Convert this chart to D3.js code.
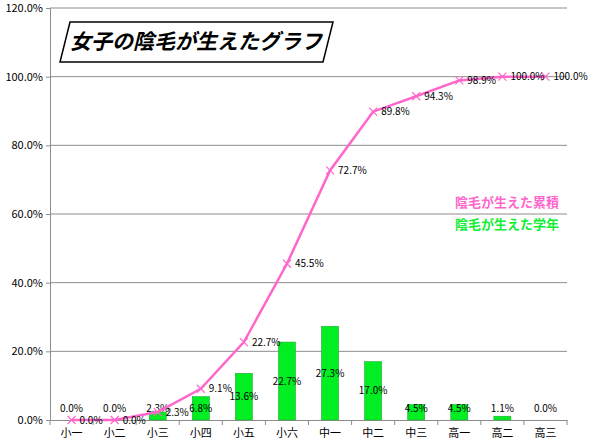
<!DOCTYPE html><html><head><meta charset="utf-8"><script src="https://cdn.jsdelivr.net/npm/d3@7"></script>
<style>body{margin:0;background:#fff}text{font-family:"Noto Sans CJK JP","DejaVu Sans",sans-serif}</style></head><body><svg id="c" width="600" height="448"></svg><script>
const categories=["小一","小二","小三","小四","小五","小六","中一","中二","中三","高一","高二","高三"];
const yearly=[0.0,0.0,2.3,6.8,13.6,22.7,27.3,17.0,4.5,4.5,1.1,0.0];
const cumulative=[0.0,0.0,2.3,9.1,22.7,45.5,72.7,89.8,94.3,98.9,100.0,100.0];
const yTicks=[0,20,40,60,80,100,120];
const svg=d3.select("#c");
const L=50,R=567,T=8,B=420;
const x=d3.scaleBand().domain(categories).range([L,R]);
const y=d3.scaleLinear().domain([0,120]).range([B,T]);
const fmt=v=>v.toFixed(1)+"%";
svg.append("g").selectAll("line").data(yTicks.slice(1)).join("line").attr("x1",L).attr("x2",R).attr("y1",d=>y(d)).attr("y2",d=>y(d)).attr("stroke","#8c8c8c");
const ya=svg.append("g").attr("transform",`translate(${L},0)`).call(d3.axisLeft(y).tickValues(yTicks).tickFormat(fmt).tickSize(4));
ya.selectAll("text").attr("font-size",11).attr("fill","#000").attr("font-family","DejaVu Sans");
ya.select(".domain").attr("stroke","#8c8c8c");ya.selectAll(".tick line").attr("stroke","#8c8c8c");
const xa=svg.append("g").attr("transform",`translate(0,${B})`).call(d3.axisBottom(x).tickSize(0).tickPadding(9));
xa.select(".domain").attr("stroke","#8c8c8c");xa.selectAll("text").attr("font-size",11).attr("fill","#000");
svg.append("g").selectAll("line").data(categories.map((c,i)=>x(c)).concat([R])).join("line").attr("x1",d=>d).attr("x2",d=>d).attr("y1",B).attr("y2",B+5).attr("stroke","#8c8c8c");
const bw=17;
svg.append("g").selectAll("rect").data(yearly).join("rect").attr("x",(d,i)=>x(categories[i])+x.bandwidth()/2-bw/2).attr("width",bw).attr("y",d=>y(d)).attr("height",d=>B-y(d)).attr("fill","#00ee22").attr("stroke","#22aa33").attr("stroke-width",0.6);
svg.append("g").selectAll("text").data(yearly).join("text").attr("x",(d,i)=>x(categories[i])+x.bandwidth()/2).attr("y",d=>Math.min((y(d)+B)/2,408)).attr("dy","0.35em").attr("text-anchor","middle").attr("font-size",10).attr("font-family","DejaVu Sans").text(fmt);
const cx=(d,i)=>x(categories[i])+x.bandwidth()/2;
svg.append("path").datum(cumulative).attr("fill","none").attr("stroke","#ff66cc").attr("stroke-width",2.5).attr("d",d3.line().x(cx).y(d=>y(d)));
svg.append("g").selectAll("path").data(cumulative).join("path").attr("transform",(d,i)=>`translate(${cx(d,i)},${y(d)})`).attr("d","M-4,-4L4,4M-4,4L4,-4").attr("stroke","#ff66cc").attr("stroke-width",1.2);
svg.append("g").selectAll("text").data(cumulative).join("text").attr("x",(d,i)=>cx(d,i)+8).attr("y",d=>y(d)).attr("dy","0.35em").attr("font-size",10).attr("font-family","DejaVu Sans").text(fmt);
svg.append("path").attr("d","M70,22L333,22L323,62L60,62Z").attr("fill","#fff").attr("stroke","#000").attr("stroke-width",1.5);
svg.append("text").attr("x",196).attr("y",49).attr("text-anchor","middle").attr("font-size",21).attr("font-weight","bold").attr("font-style","italic").attr("transform","skewX(0)").text("女子の陰毛が生えたグラフ");
svg.append("text").attr("x",455).attr("y",207).attr("font-size",13).attr("font-weight","bold").attr("fill","#ff66cc").text("陰毛が生えた累積");
svg.append("text").attr("x",455).attr("y",229).attr("font-size",13).attr("font-weight","bold").attr("fill","#11ee33").text("陰毛が生えた学年");
</script></body></html>
